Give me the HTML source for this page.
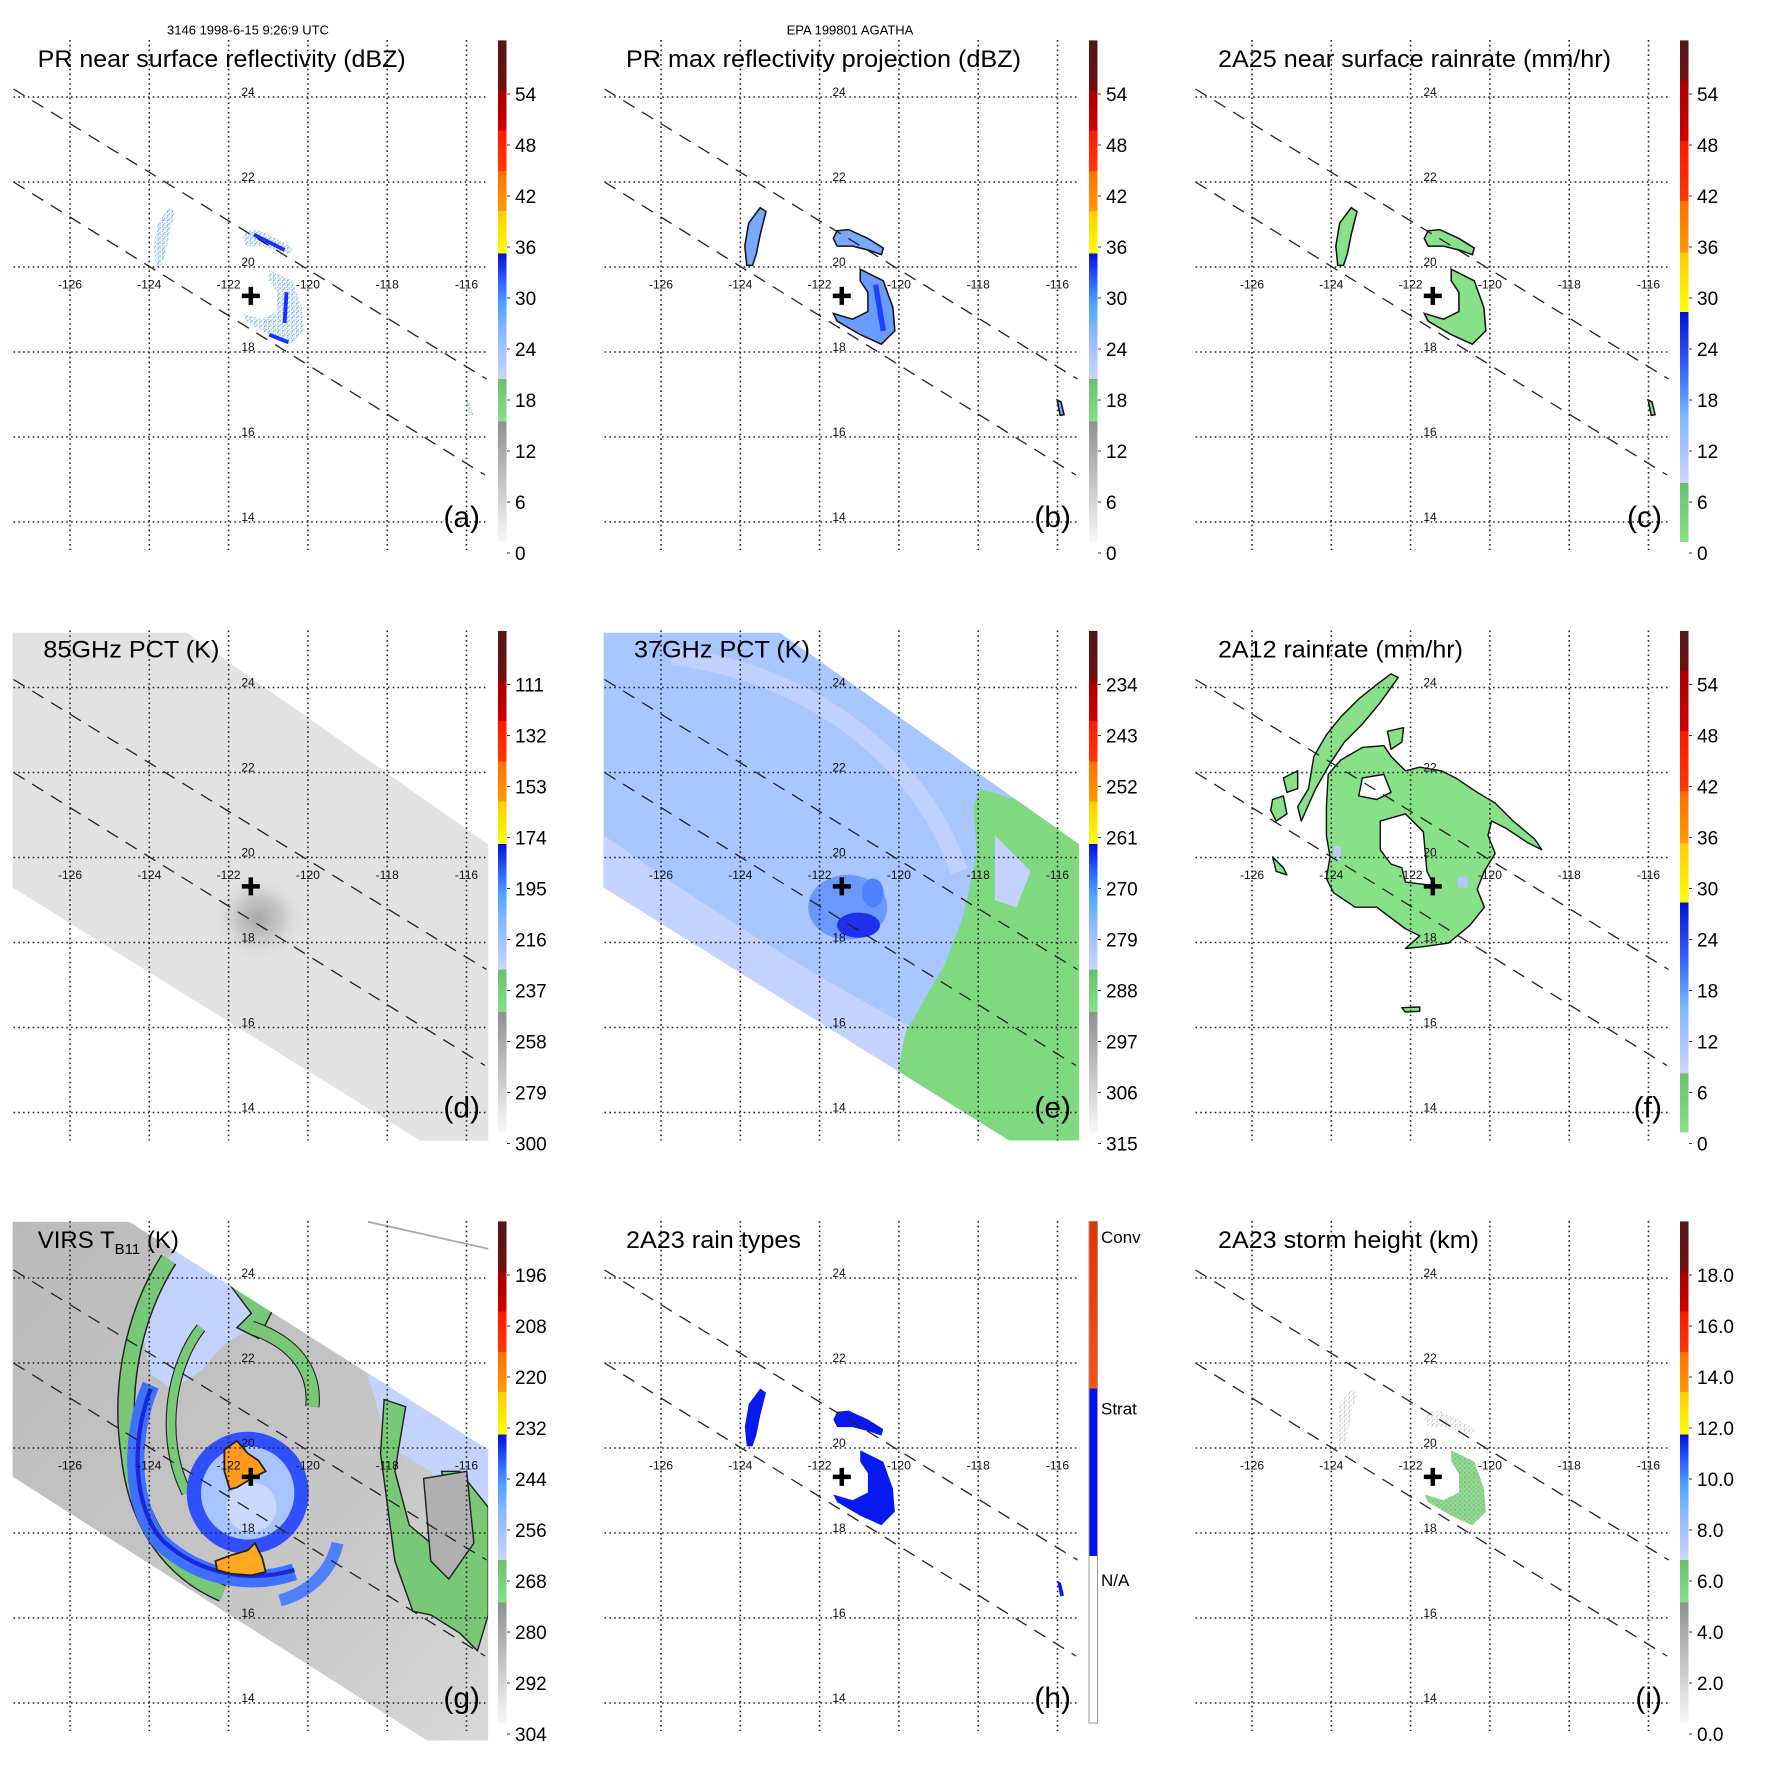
<!DOCTYPE html>
<html><head><meta charset="utf-8"><style>
html,body{margin:0;padding:0;background:#fff}
svg{display:block;font-family:"Liberation Sans",sans-serif}
</style></head><body>
<svg id="fig" xmlns="http://www.w3.org/2000/svg" width="1771" height="1771" viewBox="0 0 1771 1771">
<defs>
<linearGradient id="cmA" x1="0" y1="1" x2="0" y2="0">
<stop offset="0" stop-color="#f8f8f8"/><stop offset="0.24" stop-color="#909090"/>
<stop offset="0.24" stop-color="#86e086"/><stop offset="0.325" stop-color="#6ac06a"/>
<stop offset="0.325" stop-color="#ccd4ff"/><stop offset="0.42" stop-color="#88b8ff"/><stop offset="0.47" stop-color="#50a8ff"/><stop offset="0.52" stop-color="#3060ff"/><stop offset="0.575" stop-color="#0010d8"/>
<stop offset="0.575" stop-color="#ffff00"/><stop offset="0.66" stop-color="#ffcc00"/>
<stop offset="0.66" stop-color="#ff9a00"/><stop offset="0.74" stop-color="#ff7000"/>
<stop offset="0.74" stop-color="#ff3800"/><stop offset="0.82" stop-color="#ff1800"/>
<stop offset="0.82" stop-color="#d00000"/><stop offset="0.9" stop-color="#a80000"/>
<stop offset="0.9" stop-color="#701010"/><stop offset="1" stop-color="#501818"/>
</linearGradient>
<linearGradient id="cmB" x1="0" y1="1" x2="0" y2="0">
<stop offset="0" stop-color="#88e088"/><stop offset="0.118" stop-color="#6cc06c"/>
<stop offset="0.118" stop-color="#ccd4ff"/><stop offset="0.25" stop-color="#80b8ff"/><stop offset="0.33" stop-color="#4070ff"/><stop offset="0.459" stop-color="#0010d0"/>
<stop offset="0.459" stop-color="#ffff00"/><stop offset="0.577" stop-color="#ffcc00"/>
<stop offset="0.577" stop-color="#ff9a00"/><stop offset="0.68" stop-color="#ff7000"/>
<stop offset="0.68" stop-color="#ff3800"/><stop offset="0.8" stop-color="#ff1800"/>
<stop offset="0.8" stop-color="#d00000"/><stop offset="0.92" stop-color="#a80000"/>
<stop offset="0.92" stop-color="#701010"/><stop offset="1" stop-color="#501818"/>
</linearGradient>
<linearGradient id="cmH" x1="0" y1="1" x2="0" y2="0">
<stop offset="0" stop-color="#ffffff"/><stop offset="0.333" stop-color="#ffffff"/>
<stop offset="0.333" stop-color="#0010f0"/><stop offset="0.667" stop-color="#0010f0"/>
<stop offset="0.667" stop-color="#ff5010"/><stop offset="1" stop-color="#e83000"/>
</linearGradient>
<linearGradient id="gGray" x1="0" y1="0" x2="1" y2="1">
<stop offset="0" stop-color="#bababa"/><stop offset="0.6" stop-color="#c6c6c6"/><stop offset="1" stop-color="#dadada"/>
</linearGradient>
<radialGradient id="dSpot" cx="0.5" cy="0.5" r="0.5">
<stop offset="0" stop-color="#a8a8a8"/><stop offset="0.5" stop-color="#c8c8c8"/><stop offset="1" stop-color="#e2e2e2" stop-opacity="0"/>
</radialGradient>
<pattern id="speckA" width="12" height="12" patternUnits="userSpaceOnUse">
<rect x="0" y="0" width="4" height="4" fill="#a0c0ff"/><rect x="6" y="3" width="4" height="4" fill="#80d080"/>
<rect x="2" y="7" width="4" height="4" fill="#70a0ff"/><rect x="8" y="8" width="3" height="3" fill="#c0d0ff"/>
</pattern>
<pattern id="speckI" width="12" height="12" patternUnits="userSpaceOnUse">
<rect x="0" y="0" width="4" height="4" fill="#c8c8c8"/><rect x="6" y="5" width="4" height="4" fill="#dcdcdc"/>
<rect x="2" y="8" width="3" height="3" fill="#b0b0b0"/>
</pattern>
<pattern id="speckM" width="12" height="12" patternUnits="userSpaceOnUse">
<rect width="12" height="12" fill="#88e088"/><rect x="1" y="1" width="4" height="4" fill="#9a9a9a"/><rect x="7" y="7" width="4" height="4" fill="#a8a8a8"/>
</pattern>
</defs>

<g transform="translate(0,620) scale(0.359)">
<polygon points="35,35 520,35 1360,625 1360,1450 1170,1450 35,745" fill="#e2e2e2"/>
<ellipse cx="720" cy="830" rx="130" ry="120" fill="url(#dSpot)"/>
</g>

<g transform="translate(600,620) scale(0.359)">
<clipPath id="clipE"><polygon points="10,35 500,35 1335,625 1335,1450 1140,1450 10,745"/></clipPath>
<g clip-path="url(#clipE)">
<rect x="0" y="0" width="1400" height="1500" fill="#a8c6ff"/>
<path d="M10,600 C300,800 600,1000 900,1150 L1200,1450 L10,1450Z" fill="#c4d2ff"/>
<path d="M200,100 C600,150 900,400 1000,700" fill="none" stroke="#c0d0ff" stroke-width="50"/>
<polygon points="1060,470 1160,500 1335,620 1335,1450 1140,1450 830,1257 850,1150 960,960 1010,830 1050,650 1040,520" fill="#80d880"/>
<polygon points="1100,600 1200,700 1160,800 1100,780" fill="#c4d2ff"/>
<ellipse cx="690" cy="800" rx="110" ry="90" fill="#6a98ff"/>
<ellipse cx="720" cy="850" rx="60" ry="35" fill="#2030f0"/>
<ellipse cx="760" cy="760" rx="30" ry="40" fill="#5080ff"/>
</g>
</g>

<g transform="translate(1190,620) scale(0.359)" stroke="#111" stroke-width="4" stroke-linejoin="round">
<polygon points="385,430 420,390 480,355 540,350 560,380 600,420 640,410 700,420 740,440 800,480 850,510 900,560 960,610 980,640 940,620 880,580 840,560 830,600 850,650 820,700 800,750 820,800 780,850 720,900 650,910 600,915 640,880 600,860 520,800 460,800 400,760 380,720 390,660 380,600 380,520" fill="#88e088"/>
<polygon points="330,470 300,520 310,560 350,470 390,400 430,340 480,290 530,230 580,160 560,150 520,180 470,220 420,270 380,320 345,380" fill="#88e088"/>
<polygon points="480,440 540,430 560,480 520,500 470,490" fill="#fff"/>
<polygon points="530,560 600,540 650,590 660,700 680,740 600,730 590,690 560,680 530,640" fill="#fff"/>
<polygon points="230,500 260,490 270,540 240,560 225,530" fill="#88e088"/>
<polygon points="260,440 300,420 300,470 270,480" fill="#88e088"/>
<polygon points="230,660 260,690 270,710 240,700" fill="#88e088"/>
<polygon points="590,1080 640,1078 640,1090 600,1092" fill="#88e088"/>
<polygon points="550,310 595,300 590,340 560,360" fill="#88e088"/>
<rect x="745" y="715" width="28" height="30" fill="#b0c8ff" stroke="none"/>
<rect x="400" y="630" width="20" height="40" fill="#c0ccff" stroke="none"/>
</g>

<g transform="translate(0,1220) scale(0.359)">
<clipPath id="clipG"><polygon points="35,5 360,5 1360,640 1360,1450 1190,1450 35,715"/></clipPath>
<g clip-path="url(#clipG)">
<rect x="0" y="0" width="1400" height="1500" fill="url(#gGray)"/>
<polygon points="430,130 490,90 560,120 640,180 740,240 700,300 620,350 560,420 480,470 420,430 400,330 400,220" fill="#c4d2ff"/>
<polygon points="640,180 760,250 720,330 660,300 700,260" fill="#78c878" stroke="#222" stroke-width="4"/>
<polygon points="1020,420 1360,640 1360,900 1300,870 1200,700 1100,640 1060,550" fill="#c4d2ff"/>
<polygon points="1070,500 1130,520 1100,700 1140,850 1200,900 1260,880 1230,700 1280,700 1360,800 1360,1100 1330,1200 1280,1150 1200,1100 1150,1090 1100,950 1080,800 1060,650" fill="#78c878" stroke="#222" stroke-width="4"/>
<polygon points="1180,720 1300,700 1320,900 1250,1000 1200,950" fill="#b0b0b0" stroke="#222" stroke-width="4"/>
<path d="M470,110 C380,250 330,450 360,650 C380,850 480,980 620,1040" fill="none" stroke="#222" stroke-width="50"/>
<path d="M470,110 C380,250 330,450 360,650 C380,850 480,980 620,1040" fill="none" stroke="#78c878" stroke-width="42"/>
<path d="M560,300 C480,400 440,600 520,760" fill="none" stroke="#222" stroke-width="30"/>
<path d="M560,300 C480,400 440,600 520,760" fill="none" stroke="#78c878" stroke-width="24"/>
<path d="M700,300 C820,340 880,420 870,520" fill="none" stroke="#222" stroke-width="40"/>
<path d="M700,300 C820,340 880,420 870,520" fill="none" stroke="#78c878" stroke-width="34"/>
<path d="M420,460 C360,600 360,800 450,900 C560,1000 700,1020 820,980" fill="none" stroke="#4070ff" stroke-width="48"/>
<path d="M420,470 C365,610 368,800 455,895 C560,990 700,1010 820,975" fill="none" stroke="#1828d8" stroke-width="12"/>
<path d="M780,1060 C850,1040 920,990 940,900" fill="none" stroke="#5080ff" stroke-width="34"/>
<circle cx="690" cy="760" r="150" fill="#a8c4ff" stroke="#3050ff" stroke-width="40"/>
<circle cx="700" cy="800" r="70" fill="#c8d8ff"/>
<polygon points="625,640 660,615 690,650 720,670 740,700 700,720 660,745 640,750 625,700" fill="#ff9a1a" stroke="#222" stroke-width="5"/>
<polygon points="600,950 640,935 690,920 710,900 730,940 740,980 700,990 640,985 605,975" fill="#ffa820" stroke="#222" stroke-width="5"/>
</g>
<line x1="1025" y1="5" x2="1360" y2="80" stroke="#aaa" stroke-width="5"/>
</g>

<g id="plots"></g>
</svg>
<script>
const lonTicks = [-126, -124, -122, -120, -118, -116];
const latTicks = [24, 22, 20, 18, 16, 14];
const labelsA = ["0","6","12","18","24","30","36","42","48","54"];
const labelsD = ["300","279","258","237","216","195","174","153","132","111"];
const labelsE = ["315","306","297","288","279","270","261","252","243","234"];
const labelsG = ["304","292","280","268","256","244","232","220","208","196"];
const labelsI = ["0.0","2.0","4.0","6.0","8.0","10.0","12.0","14.0","16.0","18.0"];
const labelsH = ["N/A","Strat","Conv"];
const titles = ["PR near surface reflectivity (dBZ)","PR max reflectivity projection (dBZ)","2A25 near surface rainrate (mm/hr)","85GHz PCT (K)","37GHz PCT (K)","2A12 rainrate (mm/hr)","VIRS T","2A23 rain types","2A23 storm height (km)"];
const titleX = [37.7,626,1218,43.4,634,1218,37.7,626,1218];
const titleW = [368,395,393,176,176,245,0,175,261];
const letters = ["(a)","(b)","(c)","(d)","(e)","(f)","(g)","(h)","(i)"];
const cmaps = ["cmA","cmA","cmB","cmA","cmA","cmB","cmA","cmH","cmA"];
const cbLabels = [labelsA,labelsA,labelsA,labelsD,labelsE,labelsA,labelsG,null,labelsI];
const stormCenter = [-121.44, 19.32];

const NS = "http://www.w3.org/2000/svg";
const root = document.getElementById("plots");
function lonX(lon, c){ return 70 + (lon + 126) * 39.65 + c * 591; }
function latY(lat, r){ return 97 + (24 - lat) * 42.5 + r * 590.5; }
function mk(tag, attrs, parent){
  const e = document.createElementNS(NS, tag);
  for (const k in attrs) e.setAttribute(k, attrs[k]);
  (parent || root).appendChild(e);
  return e;
}

const blobM = "700,700 760,730 785,800 790,860 755,895 700,870 640,835 630,815 680,830 720,810 720,760 700,730";
const blobU = "640,600 670,597 720,620 760,645 755,662 720,650 680,640 640,640 630,620";
const blobL = "410,580 440,540 455,550 440,610 430,660 420,690 405,690 400,640";
const blobR = "1212,1040 1222,1045 1230,1078 1220,1080";
const blobStyles = [
  {p:0, fill:"url(#speckA)", stroke:"none", mFill:"url(#speckA)"},
  {p:1, fill:"#78a8ff", stroke:"#111", mFill:"#6a9cff"},
  {p:2, fill:"#88e088", stroke:"#111", mFill:"#88e088"},
  {p:7, fill:"#0818f0", stroke:"none", mFill:"#0818f0"},
  {p:8, fill:"url(#speckI)", stroke:"none", mFill:"url(#speckM)"}
];
blobStyles.forEach(s => {
  const c = s.p % 3, r = Math.floor(s.p / 3);
  const g = mk("g", {transform:`translate(${c*591},${r*590.5}) scale(0.3846)`});
  
  
  [blobL, blobU, blobR].forEach(pts => mk("polygon", {points:pts, fill:s.fill, stroke:s.stroke, "stroke-width":4}, g));
  mk("polygon", {points:blobM, fill:s.mFill, stroke:s.stroke, "stroke-width":4}, g);
  if (s.p === 1) { mk("path", {d:"M740,740 L760,860", stroke:"#2040ff", "stroke-width":14, fill:"none"}, g); }
  if (s.p === 0) { mk("path", {d:"M745,760 L740,840 M700,870 L750,890 M660,610 L740,650", stroke:"#1830ff", "stroke-width":10, fill:"none"}, g); }
});

for (let p = 0; p < 9; p++) {
  const c = p % 3, r = Math.floor(p / 3);
  const ox = c * 591, oy = r * 590.5;
  const grid = mk("g", {stroke:"#222", "stroke-width":1.6, "stroke-dasharray":"1.6 3.2", fill:"none"});
  
  
  lonTicks.forEach(lon => mk("line", {x1:lonX(lon,c), x2:lonX(lon,c), y1:40+oy, y2:550+oy}, grid));
  latTicks.forEach(lat => mk("line", {x1:13.5+ox, x2:488+ox, y1:latY(lat,r), y2:latY(lat,r)}, grid));
  const sw = mk("g", {stroke:"#222", "stroke-width":1.3, "stroke-dasharray":"13 9", fill:"none"});
  
  
  mk("line", {x1:13.5+ox, y1:89+oy, x2:486.5+ox, y2:379+oy}, sw);
  mk("line", {x1:13.5+ox, y1:182+oy, x2:485+ox, y2:475+oy}, sw);
  lonTicks.forEach(lon => {
    const t = mk("text", {x:lonX(lon,c), y:288.5+oy, "font-size":12, "text-anchor":"middle", fill:"#111"});
    t.textContent = String(lon);
    
    
  });
  latTicks.forEach(lat => {
    const t = mk("text", {x:248+ox, y:latY(lat,r)-1, "font-size":12, "text-anchor":"middle", fill:"#111"});
    t.textContent = String(lat);
    
    
  });
  const cx = lonX(stormCenter[0], c), cy = latY(stormCenter[1], r);
  const cr = mk("path", {d:`M${cx-9},${cy} H${cx+9} M${cx},${cy-9} V${cy+9}`, stroke:"#000", "stroke-width":4.5});
  
  
  const tt = mk("text", {x:titleX[p], y:67+oy, "font-size":24, fill:"#000"});
  
  
  if (p === 6) {
    tt.textContent = "VIRS T";
    const sub = mk("tspan", {"font-size":15, dy:6}, tt); sub.textContent = "B11";
    const rest = mk("tspan", {dy:-6}, tt); rest.textContent = " (K)";
  } else {
    tt.textContent = titles[p];
    tt.setAttribute("textLength", titleW[p]);
    tt.setAttribute("lengthAdjust", "spacingAndGlyphs");
  }
  const lt = mk("text", {x:480+ox, y:527+oy, "font-size":30, "text-anchor":"end", fill:"#000"});
  lt.textContent = letters[p];
  
  
  const bx = 498 + ox;
  const cb = mk("rect", {x:bx, y:40.4+oy, width:8.5, height:501.6, fill:`url(#${cmaps[p]})`, stroke:(p===7?"#999":"none"), "stroke-width":1});
  
  
  const labs = cbLabels[p];
  if (labs) {
    labs.forEach((s, i) => {
      const y = 553 - i * 51 + oy;
      mk("line", {x1:bx+9, x2:bx+12, y1:y, y2:y, stroke:"#333", "stroke-width":1});
      const t = mk("text", {x:515+ox, y:y+7, "font-size":19, fill:"#000"});
      t.textContent = s;
      
      
    });
  } else {
    labelsH.forEach((s, i) => {
      const y = 1579 - i * 171.5;
      const t = mk("text", {x:bx+12, y:y+7, "font-size":17, fill:"#000"});
      t.textContent = s;
      
      
    });
  }
}
[["3146 1998-6-15 9:26:9 UTC", 248], ["EPA 199801 AGATHA", 850]].forEach(h => {
  const t = mk("text", {x:h[1], y:34.6, "font-size":13, "text-anchor":"middle", fill:"#000"});
  t.textContent = h[0];
  
  
});
</script>
</body></html>
